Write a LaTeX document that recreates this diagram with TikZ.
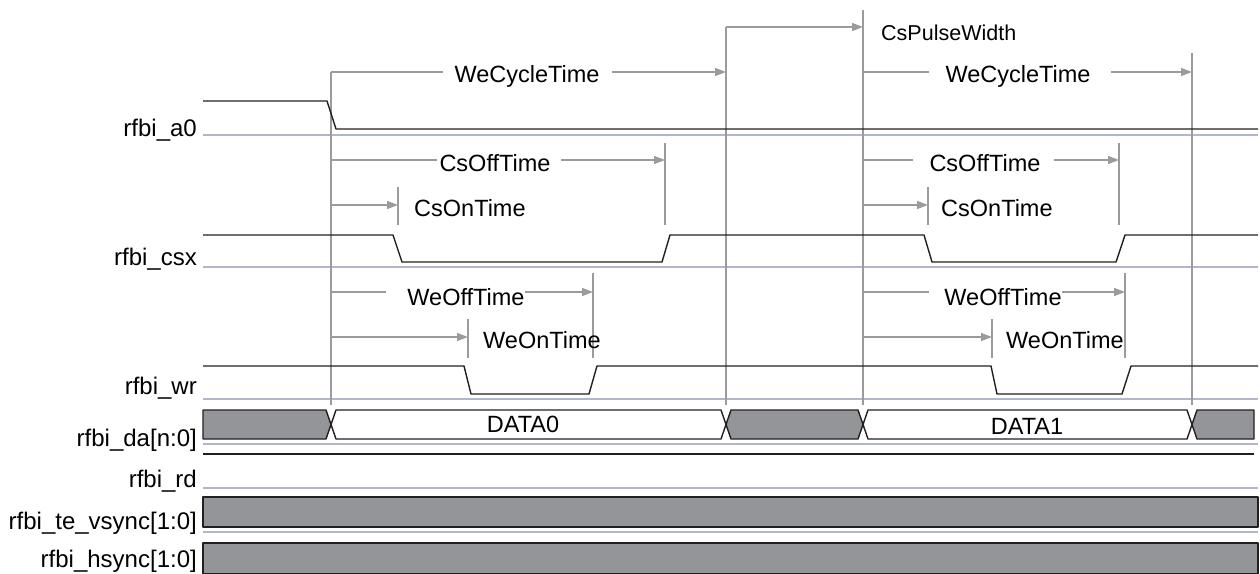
\documentclass[tikz,border=0pt]{standalone}
\usepackage{fontspec}
\setmainfont{Liberation Sans}
\usetikzlibrary{arrows.meta, positioning, calc}
\definecolor{cwave}{RGB}{35,31,32}
\definecolor{cdim}{RGB}{155,155,155}
\definecolor{csep}{RGB}{178,182,202}
\definecolor{cbus}{RGB}{147,149,152}

\begin{document}
\begin{tikzpicture}[x=1pt, y=-1pt,
    >={Triangle[length=11pt, width=8pt]},
    wave/.style={cwave, line width=1.4pt, line join=round},
    sepline/.style={csep, line width=1.4pt},
    dimline/.style={cdim, line width=1.4pt},
    marker/.style={cdim, line width=1.6pt},
    siglabel/.style={anchor=base east, inner sep=0pt, font=\fontsize{24}{28}\selectfont},
    timelabel/.style={anchor=base, inner sep=0pt, font=\fontsize{23.5}{28}\selectfont},
    busfill/.style={fill=cbus, draw=cwave, line width=1.4pt, line join=round},
]
    \useasboundingbox (0,0) rectangle (1260,573);

    % Row separators
    \foreach \y in {135,267,399,444,488,532}
        \draw[sepline] (203,\y) -- (1258,\y);

    % Time marks
    \draw[marker] (331,72) -- (331,405);
    \draw[marker] (726,27) -- (726,405);
    \draw[marker] (863,10) -- (863,405);
    \draw[marker] (1192,53) -- (1192,405);

    % CsPulseWidth
    \draw[dimline,->] (726,27) -- (863,27);
    \node[timelabel, anchor=base west, font=\fontsize{21.5}{26}\selectfont] (cspw) at (881,40) {CsPulseWidth};

    % WeCycleTime
    \draw[dimline] (331,72) -- (443,72);
    \draw[dimline,->] (612,72) -- (726,72);
    \node[timelabel] (wct0) at (527,82) {WeCycleTime};
    \draw[dimline] (863,72) -- (929,72);
    \draw[dimline,->] (1111,72) -- (1192,72);
    \node[timelabel] (wct1) at (1018,82) {WeCycleTime};

    % CsOffTime / CsOnTime
    \draw[dimline] (331,160) -- (437,160);
    \draw[dimline,->] (561,160) -- (665,160);
    \draw[dimline] (665,143) -- (665,225);
    \node[timelabel] (csoff0) at (495,171) {CsOffTime};
    \draw[dimline,->] (331,205) -- (398,205);
    \draw[dimline] (398,187) -- (398,225);
    \node[timelabel, anchor=base west] (cson0) at (414,216) {CsOnTime};

    \draw[dimline] (864,160) -- (913,160);
    \draw[dimline,->] (1054,160) -- (1119,160);
    \draw[dimline] (1119,143) -- (1119,225);
    \node[timelabel] (csoff1) at (985,171) {CsOffTime};
    \draw[dimline,->] (864,205) -- (928,205);
    \draw[dimline] (928,187) -- (928,225);
    \node[timelabel, anchor=base west] (cson1) at (941,216) {CsOnTime};

    % WeOffTime / WeOnTime
    \draw[dimline] (331,292) -- (386,292);
    \draw[dimline,->] (525,292) -- (593,292);
    \draw[dimline] (593,273) -- (593,358);
    \node[timelabel] (weoff0) at (466,305) {WeOffTime};
    \draw[dimline,->] (331,337) -- (468,337);
    \draw[dimline] (468,319) -- (468,358);
    \node[timelabel, anchor=base west] (weon0) at (483,348) {WeOnTime};

    \draw[dimline] (864,292) -- (929,292);
    \draw[dimline,->] (1062,292) -- (1125,292);
    \draw[dimline] (1125,273) -- (1125,358);
    \node[timelabel] (weoff1) at (1003,305) {WeOffTime};
    \draw[dimline,->] (864,337) -- (992,337);
    \draw[dimline] (992,319) -- (992,358);
    \node[timelabel, anchor=base west] (weon1) at (1006,348) {WeOnTime};

    % Waveforms
    \draw[wave] (203,101) -- (327,101) -- (336,129) -- (1258,129);
    \draw[wave] (203,235) -- (393,235) -- (402,262) -- (662,262) -- (670,235) -- (924,235)
        -- (932,262) -- (1116,262) -- (1125,235) -- (1258,235);
    \draw[wave] (203,366) -- (464,366) -- (471,394) -- (589,394) -- (597,366) -- (991,366)
        -- (997,394) -- (1122,394) -- (1131,366) -- (1258,366);

    % Data bus
    \draw[busfill] (203,410) -- (326,410) -- (331,424.5) -- (326,439) -- (203,439) -- cycle;
    \foreach \xa/\xb/\c in {331/726/white, 726/863/cbus, 863/1192/white}
        \draw[busfill, fill=\c] (\xa+5,410) -- (\xb-5,410) -- (\xb,424.5) -- (\xb-5,439)
            -- (\xa+5,439) -- (\xa,424.5) -- cycle;
    \draw[busfill] (1254,410) -- (1197,410) -- (1192,424.5) -- (1197,439) -- (1254,439) -- cycle;
    \node[timelabel] (data0) at (523,432) {DATA0};
    \node[timelabel] (data1) at (1027,434) {DATA1};

    \draw[wave] (203,454) -- (1254,454);
    \draw[busfill] (203,497) rectangle (1258,527);
    \draw[busfill] (203,543) rectangle (1258,574);

    % Signal names
    \node[siglabel] (la0) at (197,136) {rfbi\_a0};
    \node[siglabel] (lcsx) at (197,265) {rfbi\_csx};
    \node[siglabel] (lwr) at (197,394) {rfbi\_wr};
    \node[siglabel] (lda) at (197,446) {rfbi\_da[n:0]};
    \node[siglabel] (lrd) at (197,487) {rfbi\_rd};
    \node[siglabel] (lte) at (197,529) {rfbi\_te\_vsync[1:0]};
    \node[siglabel] (lhs) at (197,567) {rfbi\_hsync[1:0]};
\end{tikzpicture}
\end{document}
